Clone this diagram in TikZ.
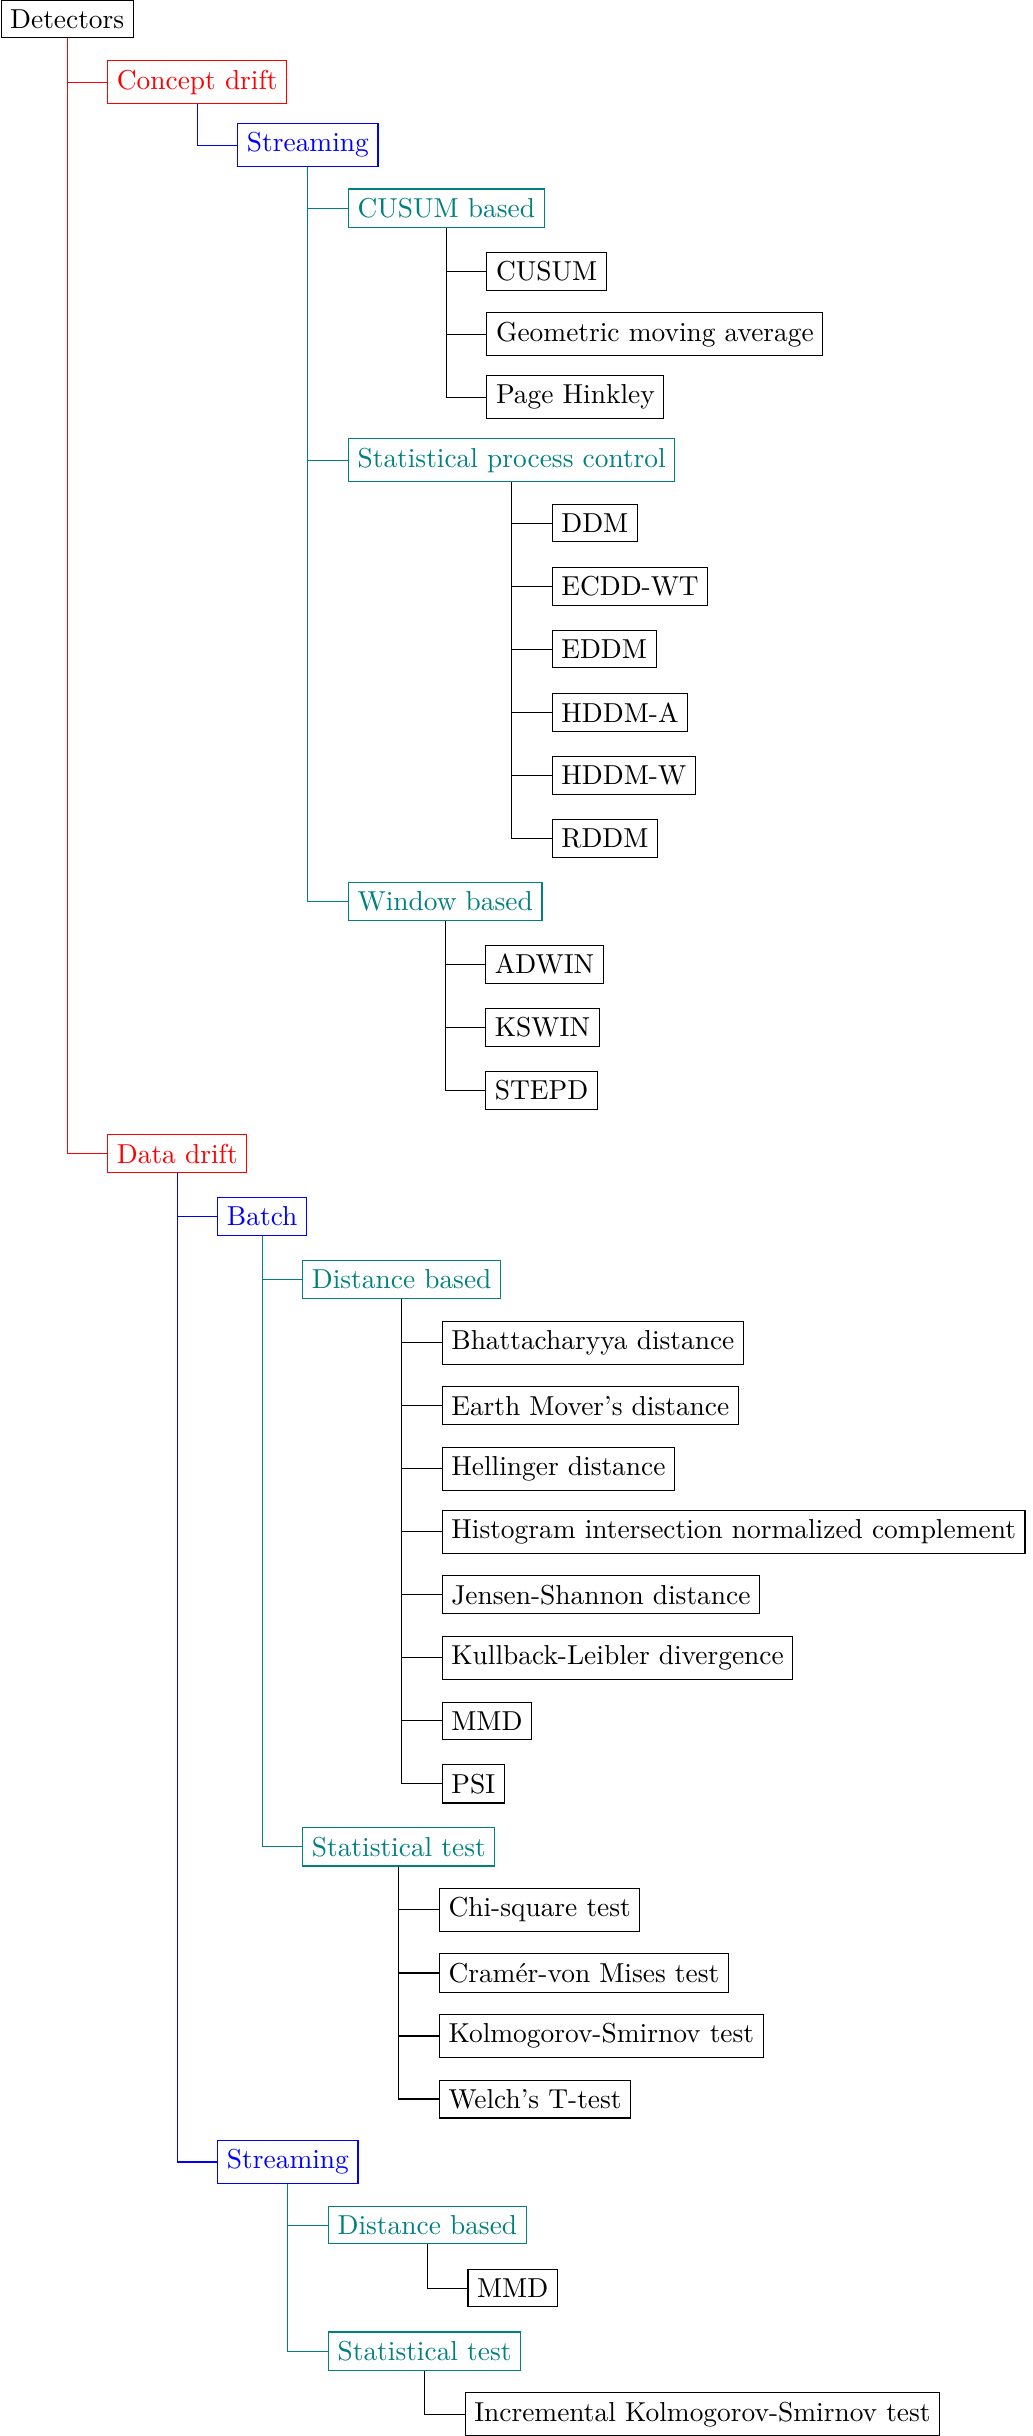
\documentclass[tikz,border=0pt]{standalone}
\usetikzlibrary{calc}

\tikzset{
  item/.style={draw, anchor=west},
  drift/.style={item, red},
  mode/.style={item, blue},
  family/.style={item, teal},
  method/.style={item, black},
}

\begin{document}
\begin{tikzpicture}[y=23pt]
  \useasboundingbox (-0.2pt,6.95pt) rectangle (376.4pt,-881.98pt);

  \node[item] (det) at (0,0) {Detectors};

  % Concept drift
  \node[drift] (cd) at ($(det.south |- 0,-1)+(14.6pt,0)$) {Concept drift};
  \node[mode] (cdstream) at ($(cd.south |- 0,-2)+(14.6pt,0)$) {Streaming};

  \node[family] (cusumb) at ($(cdstream.south |- 0,-3)+(14.6pt,0)$) {CUSUM based};
  \node[method] (cusum) at ($(cusumb.south |- 0,-4)+(14.6pt,0)$) {CUSUM};
  \node[method] (gma) at ($(cusumb.south |- 0,-5)+(14.6pt,0)$) {Geometric moving average};
  \node[method] (ph) at ($(cusumb.south |- 0,-6)+(14.6pt,0)$) {Page Hinkley};

  \node[family] (spc) at ($(cdstream.south |- 0,-7)+(14.6pt,0)$) {Statistical process control};
  \node[method] (ddm) at ($(spc.south |- 0,-8)+(14.6pt,0)$) {DDM};
  \node[method] (ecdd) at ($(spc.south |- 0,-9)+(14.6pt,0)$) {ECDD-WT};
  \node[method] (eddm) at ($(spc.south |- 0,-10)+(14.6pt,0)$) {EDDM};
  \node[method] (hddma) at ($(spc.south |- 0,-11)+(14.6pt,0)$) {HDDM-A};
  \node[method] (hddmw) at ($(spc.south |- 0,-12)+(14.6pt,0)$) {HDDM-W};
  \node[method] (rddm) at ($(spc.south |- 0,-13)+(14.6pt,0)$) {RDDM};

  \node[family] (winb) at ($(cdstream.south |- 0,-14)+(14.6pt,0)$) {Window based};
  \node[method] (adwin) at ($(winb.south |- 0,-15)+(14.6pt,0)$) {ADWIN};
  \node[method] (kswin) at ($(winb.south |- 0,-16)+(14.6pt,0)$) {KSWIN};
  \node[method] (stepd) at ($(winb.south |- 0,-17)+(14.6pt,0)$) {STEPD};

  % Data drift
  \node[drift] (dd) at ($(det.south |- 0,-18)+(14.6pt,0)$) {Data drift};
  \node[mode] (batch) at ($(dd.south |- 0,-19)+(14.6pt,0)$) {Batch};

  \node[family] (bdist) at ($(batch.south |- 0,-20)+(14.6pt,0)$) {Distance based};
  \node[method] (bhat) at ($(bdist.south |- 0,-21)+(14.6pt,0)$) {Bhattacharyya distance};
  \node[method] (emd) at ($(bdist.south |- 0,-22)+(14.6pt,0)$) {Earth Mover's distance};
  \node[method] (hell) at ($(bdist.south |- 0,-23)+(14.6pt,0)$) {Hellinger distance};
  \node[method] (hinc) at ($(bdist.south |- 0,-24)+(14.6pt,0)$) {Histogram intersection normalized complement};
  \node[method] (js) at ($(bdist.south |- 0,-25)+(14.6pt,0)$) {Jensen-Shannon distance};
  \node[method] (kl) at ($(bdist.south |- 0,-26)+(14.6pt,0)$) {Kullback-Leibler divergence};
  \node[method] (bmmd) at ($(bdist.south |- 0,-27)+(14.6pt,0)$) {MMD};
  \node[method] (psi) at ($(bdist.south |- 0,-28)+(14.6pt,0)$) {PSI};

  \node[family] (btest) at ($(batch.south |- 0,-29)+(14.6pt,0)$) {Statistical test};
  \node[method] (chi) at ($(btest.south |- 0,-30)+(14.6pt,0)$) {Chi-square test};
  \node[method] (cvm) at ($(btest.south |- 0,-31)+(14.6pt,0)$) {Cramér-von Mises test};
  \node[method] (ks) at ($(btest.south |- 0,-32)+(14.6pt,0)$) {Kolmogorov-Smirnov test};
  \node[method] (welch) at ($(btest.south |- 0,-33)+(14.6pt,0)$) {Welch's T-test};

  \node[mode] (ddstream) at ($(dd.south |- 0,-34)+(14.6pt,0)$) {Streaming};
  \node[family] (sdist) at ($(ddstream.south |- 0,-35)+(14.6pt,0)$) {Distance based};
  \node[method] (smmd) at ($(sdist.south |- 0,-36)+(14.6pt,0)$) {MMD};
  \node[family] (stest) at ($(ddstream.south |- 0,-37)+(14.6pt,0)$) {Statistical test};
  \node[method] (iks) at ($(stest.south |- 0,-38)+(14.6pt,0)$) {Incremental Kolmogorov-Smirnov test};

  % Kanten
  \draw[red] (det.south) |- (cd.west);
  \draw[red] (det.south) |- (dd.west);
  \draw[blue] (cd.south) |- (cdstream.west);
  \draw[blue] (dd.south) |- (batch.west);
  \draw[blue] (dd.south) |- (ddstream.west);

  \draw[teal] (cdstream.south) |- (cusumb.west);
  \draw[teal] (cdstream.south) |- (spc.west);
  \draw[teal] (cdstream.south) |- (winb.west);
  \draw[teal] (batch.south) |- (bdist.west);
  \draw[teal] (batch.south) |- (btest.west);
  \draw[teal] (ddstream.south) |- (sdist.west);
  \draw[teal] (ddstream.south) |- (stest.west);

  \draw (cusumb.south) |- (cusum.west);
  \draw (cusumb.south) |- (gma.west);
  \draw (cusumb.south) |- (ph.west);
  \draw (spc.south) |- (ddm.west);
  \draw (spc.south) |- (ecdd.west);
  \draw (spc.south) |- (eddm.west);
  \draw (spc.south) |- (hddma.west);
  \draw (spc.south) |- (hddmw.west);
  \draw (spc.south) |- (rddm.west);
  \draw (winb.south) |- (adwin.west);
  \draw (winb.south) |- (kswin.west);
  \draw (winb.south) |- (stepd.west);

  \draw (bdist.south) |- (bhat.west);
  \draw (bdist.south) |- (emd.west);
  \draw (bdist.south) |- (hell.west);
  \draw (bdist.south) |- (hinc.west);
  \draw (bdist.south) |- (js.west);
  \draw (bdist.south) |- (kl.west);
  \draw (bdist.south) |- (bmmd.west);
  \draw (bdist.south) |- (psi.west);
  \draw (btest.south) |- (chi.west);
  \draw (btest.south) |- (cvm.west);
  \draw (btest.south) |- (ks.west);
  \draw (btest.south) |- (welch.west);
  \draw (sdist.south) |- (smmd.west);
  \draw (stest.south) |- (iks.west);
\end{tikzpicture}
\end{document}
